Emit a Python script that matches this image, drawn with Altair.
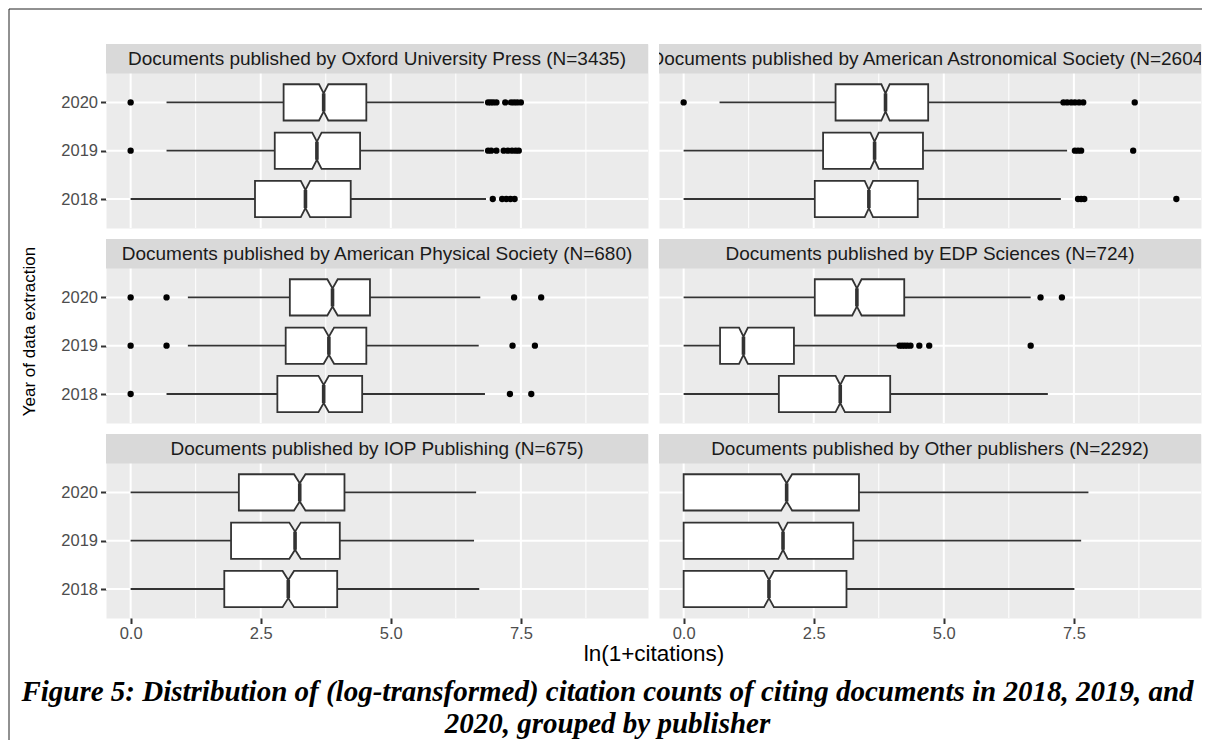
import altair as alt
import pandas as pd

# ---------------- data ----------------
PUBLISHERS = ["Oxford University Press", "American Astronomical Society",
              "American Physical Society", "EDP Sciences",
              "IOP Publishing", "Other publishers"]
N_DOCS = [3435, 2604, 680, 724, 675, 2292]
YEARS = ["2018", "2019", "2020"]          # every list below: 2018, 2019, 2020

LOWER = {
    "Oxford University Press":       [0.00, 0.69, 0.69],
    "American Astronomical Society": [0.00, 0.00, 0.69],
    "American Physical Society":     [0.69, 1.10, 1.10],
    "EDP Sciences":                  [0.00, 0.00, 0.00],
    "IOP Publishing":                [0.00, 0.00, 0.00],
    "Other publishers":              [0.00, 0.00, 0.00],
}
Q1 = {
    "Oxford University Press":       [2.39, 2.77, 2.94],
    "American Astronomical Society": [2.52, 2.68, 2.92],
    "American Physical Society":     [2.82, 2.98, 3.06],
    "EDP Sciences":                  [1.83, 0.70, 2.52],
    "IOP Publishing":                [1.80, 1.93, 2.08],
    "Other publishers":              [0.00, 0.00, 0.00],
}
MEDIAN = {
    "Oxford University Press":       [3.36, 3.58, 3.71],
    "American Astronomical Society": [3.56, 3.67, 3.88],
    "American Physical Society":     [3.71, 3.81, 3.88],
    "EDP Sciences":                  [3.01, 1.15, 3.33],
    "IOP Publishing":                [3.03, 3.16, 3.25],
    "Other publishers":              [1.64, 1.91, 1.98],
}
Q3 = {
    "Oxford University Press":       [4.23, 4.41, 4.53],
    "American Astronomical Society": [4.50, 4.60, 4.70],
    "American Physical Society":     [4.45, 4.53, 4.60],
    "EDP Sciences":                  [3.97, 2.12, 4.24],
    "IOP Publishing":                [3.97, 4.02, 4.11],
    "Other publishers":              [3.13, 3.26, 3.37],
}
UPPER = {
    "Oxford University Press":       [6.83, 6.79, 6.79],
    "American Astronomical Society": [7.25, 7.37, 7.27],
    "American Physical Society":     [6.81, 6.69, 6.72],
    "EDP Sciences":                  [7.00, 4.12, 6.67],
    "IOP Publishing":                [6.70, 6.60, 6.64],
    "Other publishers":              [7.51, 7.64, 7.78],
}
NOTCH = {   # half width of the notch around the median
    "Oxford University Press":       [0.09, 0.09, 0.09],
    "American Astronomical Society": [0.08, 0.08, 0.08],
    "American Physical Society":     [0.10, 0.10, 0.10],
    "EDP Sciences":                  [0.09, 0.085, 0.09],
    "IOP Publishing":                [0.11, 0.11, 0.11],
    "Other publishers":              [0.095, 0.09, 0.105],
}
OUTLIERS = {
    "Oxford University Press": [
        [6.96, 7.14, 7.22, 7.30, 7.38],
        [0.00, 6.87, 6.93, 7.03, 7.17, 7.25, 7.33, 7.40, 7.46],
        [0.00, 6.87, 6.92, 6.97, 7.03, 7.20, 7.31, 7.37, 7.43, 7.50]],
    "American Astronomical Society": [
        [7.58, 7.64, 7.70, 9.47],
        [7.52, 7.58, 7.64, 8.64],
        [0.00, 7.30, 7.37, 7.45, 7.52, 7.60, 7.68, 8.67]],
    "American Physical Society": [
        [0.00, 7.29, 7.70],
        [0.00, 0.69, 7.34, 7.77],
        [0.00, 0.69, 7.37, 7.89]],
    "EDP Sciences": [
        [],
        [4.15, 4.20, 4.25, 4.30, 4.36, 4.53, 4.72, 6.67],
        [6.86, 7.27]],
    "IOP Publishing": [[], [], []],
    "Other publishers": [[], [], []],
}
MAJOR_TICKS = [0.0, 2.5, 5.0, 7.5]
MINOR_TICKS = [1.25, 3.75, 6.25, 8.75]
X_TITLE = "ln(1+citations)"
Y_TITLE = "Year of data extraction"
CAPTION = ["Figure 5: Distribution of (log-transformed) citation counts of citing documents in 2018, 2019, and",
           "2020, grouped by publisher"]

# ---------------- style / layout ----------------
SANS = "Liberation Sans"
SERIF = "Liberation Serif"
LINE = "#333333"
W = 542
STRIP_PX = 29.4
PLOT_PX = 154.6
H = STRIP_PX + PLOT_PX
GAP = 11
BOX_H = 0.375
NOTCH_W = 0.5
PX_PER_ROW = PLOT_PX / 3.2
Y_DOMAIN = [0.4, 3.6 + STRIP_PX / PX_PER_ROW]

vals = []
for p in PUBLISHERS:
    vals += LOWER[p] + UPPER[p]
    for o in OUTLIERS[p]:
        vals += o
pad = 0.05 * (max(vals) - min(vals))
X_DOMAIN = [min(vals) - pad, max(vals) + pad]

LABEL_EXPR = "[" + ",".join("'%s'" % y for y in YEARS) + "][datum.value - 1]"


def panel(i, show_x, show_y, y_title=None, extra=()):
    p = PUBLISHERS[i]
    xs = alt.Scale(domain=X_DOMAIN, nice=False, zero=False)
    ys = alt.Scale(domain=Y_DOMAIN, nice=False, zero=False)
    if show_x:
        xax = alt.Axis(values=MAJOR_TICKS, format=".1f", grid=False, domain=False,
                       tickColor=LINE, tickWidth=2, tickSize=5.5, labelPadding=2,
                       labelFont=SANS, labelFontSize=16.5, labelColor="#4D4D4D",
                       labelFlush=False)
    else:
        xax = None
    if show_y:
        kw = {}
        if y_title:
            kw = dict(titleFont=SANS, titleFontSize=17, titleColor="black",
                      titleFontWeight="normal", titlePadding=22)
        yax = alt.Axis(values=[1, 2, 3], labelExpr=LABEL_EXPR, grid=False, domain=False,
                       tickColor=LINE, tickWidth=2, tickSize=5.5, labelPadding=3,
                       labelFont=SANS, labelFontSize=16.5, labelColor="#4D4D4D", **kw)
    else:
        yax = None

    def X(f):
        return alt.X(f, type="quantitative", scale=xs, axis=xax, title=None)

    def Y(f):
        return alt.Y(f, type="quantitative", scale=ys, axis=yax, title=y_title)

    stats = pd.DataFrame({
        "year": YEARS, "row": [1, 2, 3],
        "lo": LOWER[p], "q1": Q1[p], "med": MEDIAN[p], "q3": Q3[p], "hi": UPPER[p]})
    stats["m_lo"] = stats["row"] - BOX_H * NOTCH_W
    stats["m_hi"] = stats["row"] + BOX_H * NOTCH_W

    poly = []
    for k, yr in enumerate(YEARS):
        r = k + 1
        q1, md, q3, n = Q1[p][k], MEDIAN[p][k], Q3[p][k], NOTCH[p][k]
        for x, h in [(q1, BOX_H), (md - n, BOX_H), (md, BOX_H * NOTCH_W),
                     (md + n, BOX_H), (q3, BOX_H)]:
            poly.append({"year": yr, "x": x, "top": r + h, "bottom": r - h})
    poly = pd.DataFrame(poly)

    outl = [{"year": yr, "row": k + 1, "v": v}
            for k, yr in enumerate(YEARS) for v in OUTLIERS[p][k]]
    outl = pd.DataFrame(outl, columns=["year", "row", "v"])

    major = pd.DataFrame({"v": MAJOR_TICKS})
    minor = pd.DataFrame({"v": MINOR_TICKS})
    rows = pd.DataFrame({"row": [1, 2, 3]})
    label = pd.DataFrame({"label": ["Documents published by %s (N=%d)" % (p, N_DOCS[i])]})

    layers = [
        alt.Chart(major).mark_rule(color="white", strokeWidth=2).encode(x=X("v")),
        alt.Chart(minor).mark_rule(color="white", strokeWidth=1).encode(x=X("v")),
        alt.Chart(rows).mark_rule(color="white", strokeWidth=2).encode(y=Y("row")),
        alt.Chart(stats).mark_rule(color=LINE, strokeWidth=1.8).encode(
            x=X("lo"), x2=alt.X2("q1"), y=Y("row")),
        alt.Chart(stats).mark_rule(color=LINE, strokeWidth=1.8).encode(
            x=X("q3"), x2=alt.X2("hi"), y=Y("row")),
        alt.Chart(poly).mark_area(fill="white", stroke=LINE, strokeWidth=1.8,
                                  orient="vertical", opacity=1).encode(
            x=X("x"), y=Y("top"), y2=alt.Y2("bottom"), detail="year:N"),
        alt.Chart(stats).mark_rule(color=LINE, strokeWidth=3.6).encode(
            x=X("med"), y=Y("m_lo"), y2=alt.Y2("m_hi")),
        alt.Chart(outl).mark_circle(color="black", size=40, opacity=1).encode(
            x=X("v"), y=Y("row")),
        alt.Chart(label).mark_rect(color="#D9D9D9").encode(
            x=alt.value(0), x2=alt.value(W), y=alt.value(0), y2=alt.value(STRIP_PX)),
        alt.Chart(label).mark_text(font=SANS, fontSize=19, color="#1A1A1A",
                                   baseline="middle", align="center", clip=True).encode(
            x=alt.value(W / 2), y=alt.value(STRIP_PX / 2 + 0.5), text="label:N"),
    ]
    layers += list(extra)
    return alt.layer(*layers).properties(width=W, height=H)


one = pd.DataFrame({"k": [0]})
border = [
    alt.Chart(one).mark_rule(color="#222222", strokeWidth=1).encode(
        x=alt.value(-97), y=alt.value(-35), y2=alt.value(696)),
    alt.Chart(one).mark_rule(color="#222222", strokeWidth=1).encode(
        x=alt.value(-97), x2=alt.value(1096), y=alt.value(-35)),
]
texts = [
    alt.Chart(one).mark_text(text=X_TITLE, font=SANS, fontSize=22.5, color="black",
                             align="center", baseline="middle").encode(
        x=alt.value(548), y=alt.value(219.5)),
    alt.Chart(one).mark_text(text=CAPTION[0], font=SERIF, fontSize=29, fontStyle="italic",
                             fontWeight="bold", color="black", align="center",
                             baseline="middle").encode(x=alt.value(501.5), y=alt.value(257.5)),
    alt.Chart(one).mark_text(text=CAPTION[1], font=SERIF, fontSize=29, fontStyle="italic",
                             fontWeight="bold", color="black", align="center",
                             baseline="middle").encode(x=alt.value(501.5), y=alt.value(289.5)),
]

p1 = panel(0, False, True, extra=border)
p2 = panel(1, False, False)
p3 = panel(2, False, True, y_title=Y_TITLE)
p4 = panel(3, False, False)
p5 = panel(4, True, True, extra=texts)
p6 = panel(5, True, False)

chart = alt.concat(
    p1, p2, p3, p4, p5, p6, columns=2, spacing=GAP, bounds="flush",
).properties(padding=0).configure_view(fill="#EBEBEB", stroke="transparent")

chart.save("out.html", embed_options={"renderer": "svg", "actions": False})
